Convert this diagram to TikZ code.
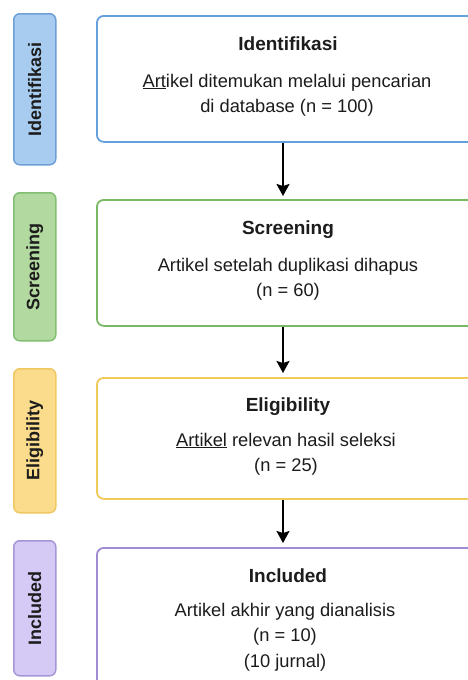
\documentclass[tikz,border=0pt]{standalone}
\usepackage{fontspec}
\setmainfont{Liberation Sans}
\usetikzlibrary{arrows.meta}
\definecolor{tabblue}{RGB}{168,204,240}
\definecolor{tabblueb}{RGB}{110,160,215}
\definecolor{tabgreen}{RGB}{178,218,160}
\definecolor{tabgreenb}{RGB}{130,190,115}
\definecolor{tabyellow}{RGB}{251,220,140}
\definecolor{tabyellowb}{RGB}{240,200,100}
\definecolor{tabpurple}{RGB}{212,202,245}
\definecolor{tabpurpleb}{RGB}{165,150,215}
\definecolor{boxblue}{RGB}{100,160,220}
\definecolor{boxgreen}{RGB}{122,185,100}
\definecolor{boxyellow}{RGB}{242,202,90}
\definecolor{boxpurple}{RGB}{160,140,212}
\definecolor{ink}{RGB}{28,28,28}
\tikzset{
  tab/.style={draw, line width=1.5pt, rounded corners=6pt, minimum width=42pt, anchor=north west, inner sep=0pt},
  tablabel/.style={rotate=90, font=\fontsize{18}{20}\selectfont\bfseries, text=ink, inner sep=0pt},
  mainbox/.style={draw, line width=1.8pt, rounded corners=7pt, minimum width=400pt, anchor=north west, fill=white, inner sep=0pt},
  title/.style={anchor=base, font=\fontsize{19}{22}\selectfont\bfseries, text=ink, inner sep=0pt},
  body/.style={anchor=base, font=\fontsize{18.3}{22}\selectfont, text=ink, inner sep=0pt},
  flow/.style={line width=1.8pt, draw=black, -{Stealth[length=12pt,width=13pt,inset=2pt]}}
}
\newcommand{\ul}[1]{\underline{#1}}
\begin{document}
\begin{tikzpicture}[x=1pt,y=-1pt]
\useasboundingbox (0,0) rectangle (468,680);
\clip (0,0) rectangle (468,680);
\fill[white] (0,0) rectangle (468,680);
% tabs
\node[tab, fill=tabblue, draw=tabblueb, minimum height=151pt] (t1) at (13,13) {};
\node[tablabel] (t1l) at (t1.center) {Identifikasi};
\node[tab, fill=tabgreen, draw=tabgreenb, minimum height=148pt] (t2) at (13,192) {};
\node[tablabel] (t2l) at (t2.center) {Screening};
\node[tab, fill=tabyellow, draw=tabyellowb, minimum height=144pt] (t3) at (13,368) {};
\node[tablabel] (t3l) at (t3.center) {Eligibility};
\node[tab, fill=tabpurple, draw=tabpurpleb, minimum height=135pt] (t4) at (13,540) {};
\node[tablabel] (t4l) at (t4.center) {Included};
% main boxes
\node[mainbox, draw=boxblue, minimum height=126pt] (b1) at (96,15) {};
\node[mainbox, draw=boxgreen, minimum height=126pt] (b2) at (96,199) {};
\node[mainbox, draw=boxyellow, minimum height=121pt] (b3) at (96,377) {};
\node[mainbox, draw=boxpurple, minimum height=160pt] (b4) at (96,547) {};
% texts
\node[title] (h1) at (288,50) {Identifikasi};
\node[body] (h1a) at (287,87) {\ul{Art}ikel ditemukan melalui pencarian};
\node[body] (h1b) at (287,112) {di database (n = 100)};
\node[title] (h2) at (288,234) {Screening};
\node[body] (h2a) at (288,271) {Artikel setelah duplikasi dihapus};
\node[body] (h2b) at (288,296) {(n = 60)};
\node[title] (h3) at (288,411) {Eligibility};
\node[body] (h3a) at (286,446) {\ul{Artikel} relevan hasil seleksi};
\node[body] (h3b) at (286,471) {(n = 25)};
\node[title] (h4) at (288,582) {Included};
\node[body] (h4a) at (285,616) {Artikel akhir yang dianalisis};
\node[body] (h4b) at (285,641) {(n = 10)};
\node[body] (h4c) at (285,667) {(10 jurnal)};
% arrows
\draw[flow, shorten >=3pt] (b1.south -| 283,0) -- (b2.north -| 283,0);
\draw[flow, shorten >=4pt] (b2.south -| 283,0) -- (b3.north -| 283,0);
\draw[flow, shorten >=4pt] (b3.south -| 283,0) -- (b4.north -| 283,0);
\end{tikzpicture}
\end{document}
